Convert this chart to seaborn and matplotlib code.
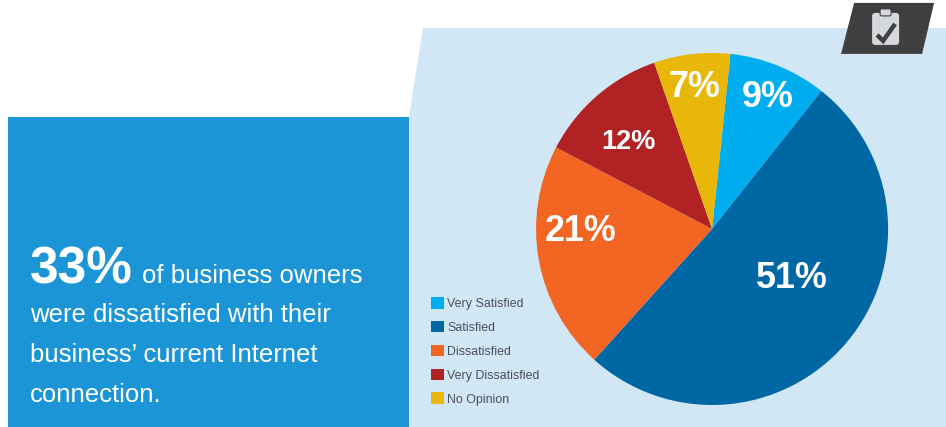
import matplotlib
matplotlib.use("Agg")
import matplotlib.pyplot as plt
from matplotlib.patches import Polygon, Rectangle, FancyBboxPatch
from matplotlib.lines import Line2D
import seaborn as sns

categories = ["Very Satisfied", "Satisfied", "Dissatisfied", "Very Dissatisfied", "No Opinion"]
shares = [9, 51, 21, 12, 7]
slice_colors = ["#00aeef", "#0067a5", "#f36523", "#b12224", "#e9b709"]
label_sizes = [25.8, 25.8, 25.8, 19.5, 25.8]
label_centres = [(768, 97), (792, 278), (581, 231), (628, 142), (694, 87)]

W, H = 946, 427
CX, CY, R = 712, 229, 176

sns.set_theme(style="white")
plt.rcParams["font.family"] = ["Liberation Sans", "DejaVu Sans"]

# The small excess keeps the pixel size from being truncated on save
fig = plt.figure(figsize=((W + 0.1) / 100, (H + 0.1) / 100), dpi=100, facecolor="white")

# Page furniture, laid out in pixel units
bg = fig.add_axes([0, 0, 1, 1])
bg.set_xlim(0, W)
bg.set_ylim(H, 0)
bg.axis("off")
bg.add_patch(Polygon([(423, 28), (946, 28), (946, 427), (409, 427), (409, 117)],
                     facecolor="#d1e7f5", edgecolor="none"))
bg.add_patch(Rectangle((8, 117), 401, 310, facecolor="#1b95d6", edgecolor="none"))

# Clipboard badge
bg.add_patch(Polygon([(854, 3), (934, 3), (922, 54), (841, 54)],
                     facecolor="#3f3f3f", edgecolor="none"))
bg.add_patch(FancyBboxPatch((874, 15), 23, 28, boxstyle="round,pad=2,rounding_size=3",
                            facecolor="#d5d9de", edgecolor="none"))
bg.add_patch(FancyBboxPatch((881, 10), 9, 5, boxstyle="round,pad=1,rounding_size=1.5",
                            facecolor="#d5d9de", edgecolor="#3f3f3f", linewidth=0.8))
bg.add_line(Line2D([877, 883, 895], [35, 41, 24], color="#3f3f3f", linewidth=3.2,
                   solid_capstyle="butt", solid_joinstyle="miter"))

# Headline copy
bg.text(30, 283, "33%", color="white", fontsize=37, fontweight="bold", va="baseline")
bg.text(142, 283, "of business owners", color="white", fontsize=18.5, va="baseline")
bg.text(30, 322, "were dissatisfied with their", color="white", fontsize=18.5, va="baseline")
bg.text(30, 362, "business\u2019 current Internet", color="white", fontsize=18.5, va="baseline")
bg.text(30, 402, "connection.", color="white", fontsize=18.5, va="baseline")

# Pie: one data unit equals the radius, limits are fixed at +/-1.25 by pie()
side = 2.5 * R
pie_ax = fig.add_axes([(CX - side / 2) / W, (H - CY - side / 2) / H, side / W, side / H])
pie_ax.patch.set_alpha(0)
wedges, _, pct_texts = pie_ax.pie(
    shares,
    colors=sns.color_palette(slice_colors),
    startangle=84,
    counterclock=False,
    autopct="%d%%",
    wedgeprops={"linewidth": 0},
)
for txt, size, (px, py) in zip(pct_texts, label_sizes, label_centres):
    txt.set_position(((px - CX) / R, (CY - py) / R))
    txt.set_fontsize(size)
    txt.set_fontweight("bold")
    txt.set_color("white")

bg.legend(
    wedges, categories,
    loc="upper left",
    bbox_to_anchor=(431 / W, 1 - 297 / H),
    bbox_transform=fig.transFigure,
    frameon=False,
    fontsize=8.9,
    labelcolor="#4a4f55",
    handlelength=1.06,
    handleheight=1.06,
    handletextpad=0.25,
    labelspacing=0.88,
    borderpad=0,
    borderaxespad=0,
)

fig.savefig("out.png", dpi=100, facecolor="white")
